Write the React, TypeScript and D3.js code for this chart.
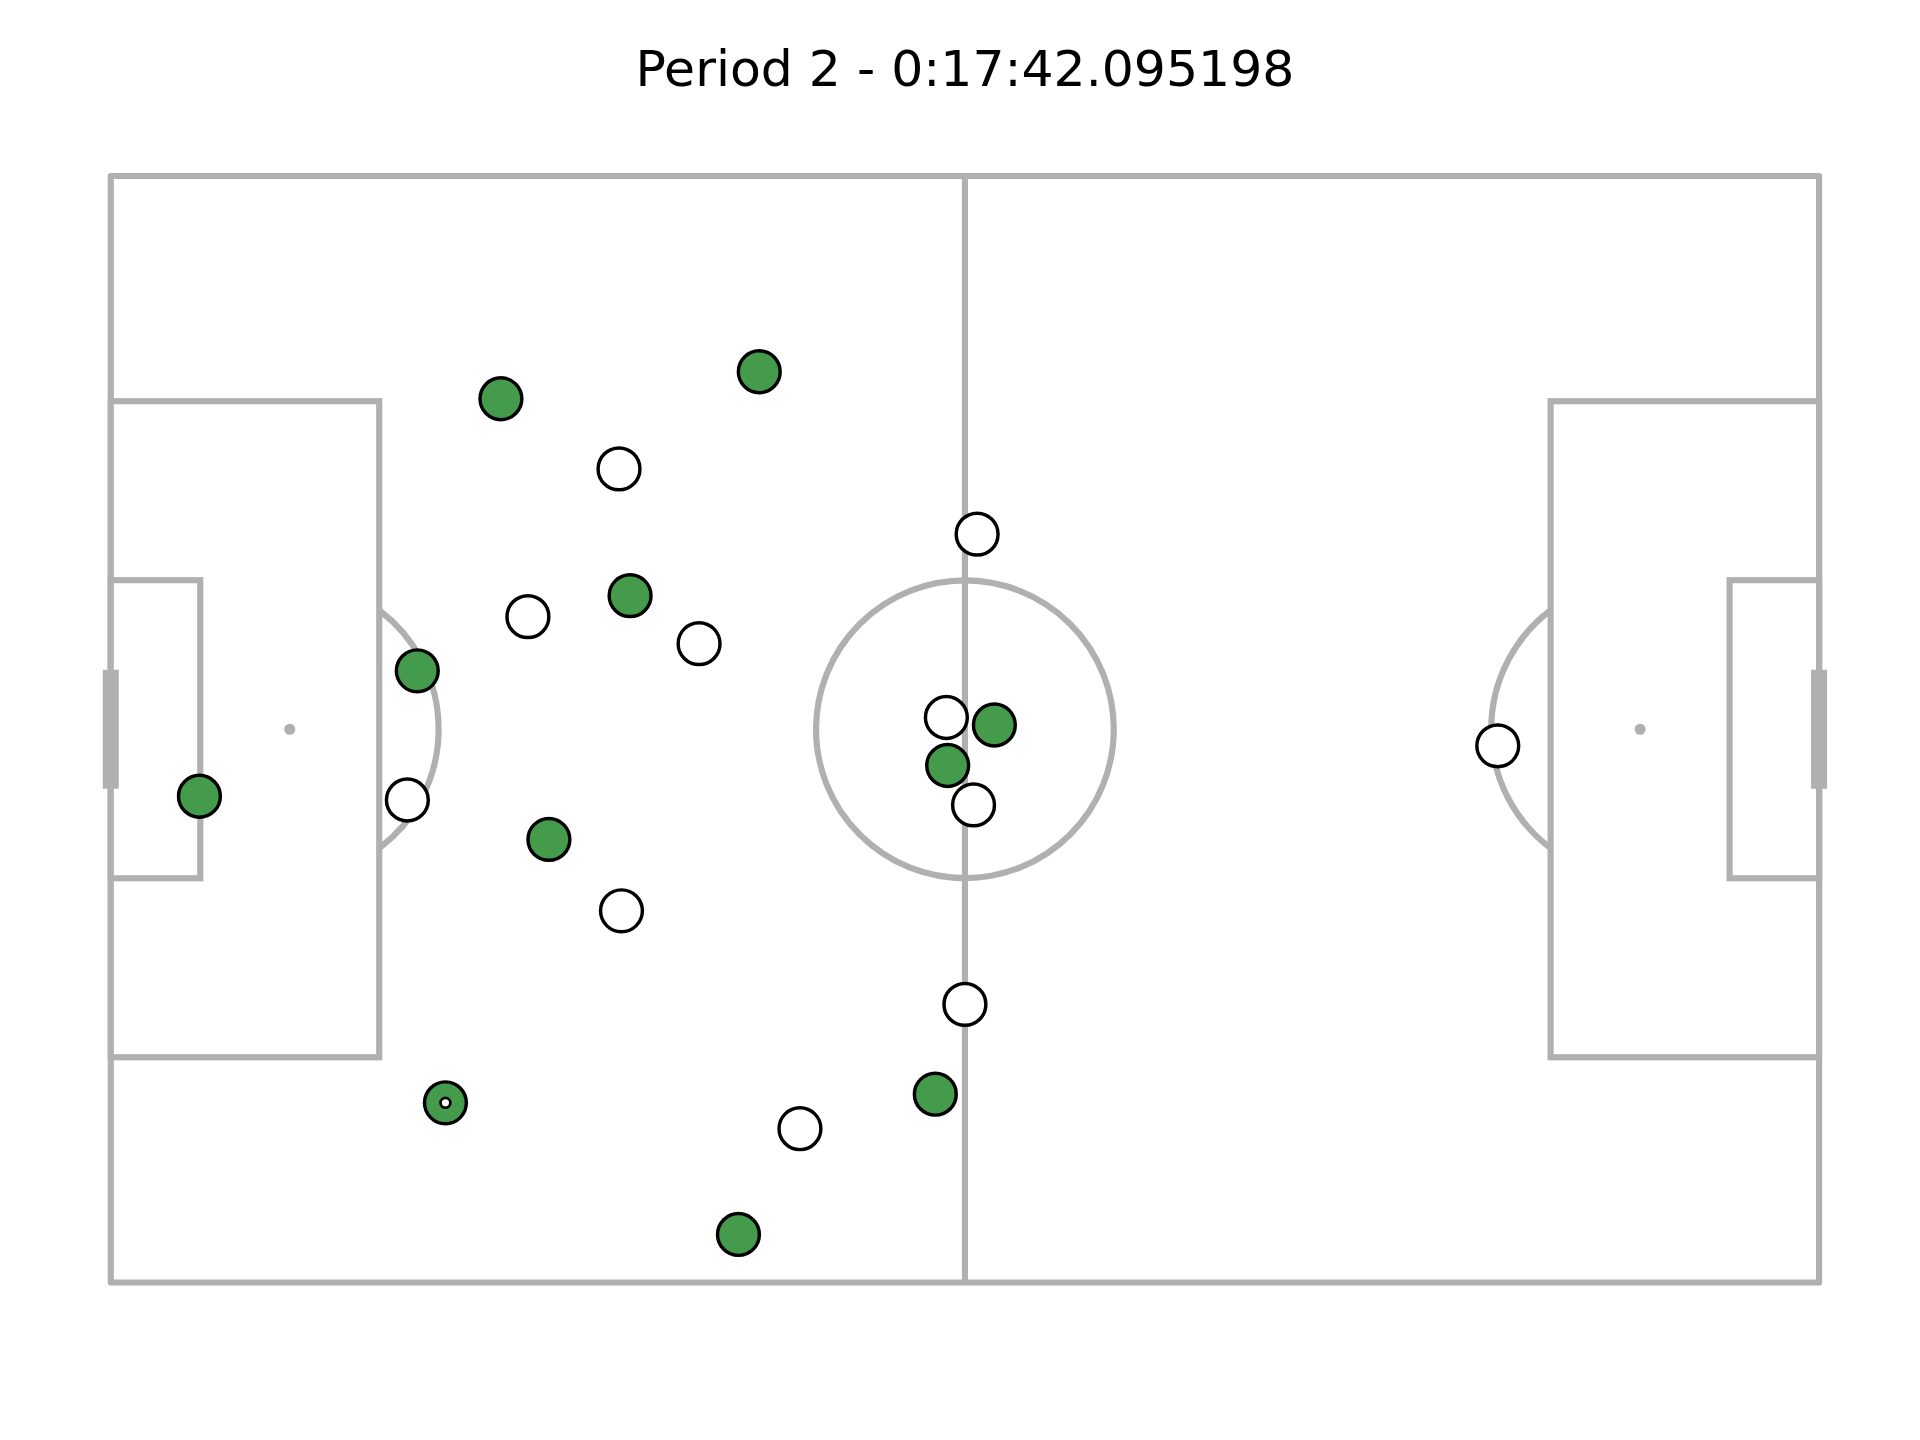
import React from 'react';
import * as d3 from 'd3';

// pitch in metres (105 x 68), positions read from the frame
const homeX = [23.98, 39.86, 31.92, 18.84, 5.45, 26.93, 51.44, 54.31, 50.68, 20.57, 38.58];
const homeY = [13.69, 12.03, 25.79, 30.41, 38.12, 40.77, 36.23, 33.74, 56.43, 56.96, 65.05];
const awayX = [31.24, 53.25, 25.64, 36.16, 51.36, 18.23, 53.03, 31.39, 52.5, 42.36, 85.25];
const awayY = [18.0, 22.01, 27.08, 28.74, 33.28, 38.35, 38.65, 45.16, 50.91, 58.55, 35.02];
const ball = [20.57, 56.96];
const title = 'Period 2 - 0:17:42.095198';

export default function App() {
  const x = d3.scaleLinear().domain([0, 105]).range([90, 1478]);
  const y = d3.scaleLinear().domain([0, 68]).range([143, 1042]);
  const k = x(1) - x(0);
  const line = '#b0b0b0';
  const lw = 5;
  const arc = d3.arc();
  const pen = (side: number) => {
    const sx = side === 0 ? 11 : 94;
    const a0 = side === 0 ? Math.PI * 0.5 - 0.92 : -Math.PI * 0.5 - 0.92;
    return (
      <path
        transform={`translate(${x(sx)},${y(34)})`}
        d={arc({ innerRadius: 9.15 * k, outerRadius: 9.15 * k, startAngle: a0, endAngle: a0 + 1.84 }) || ''}
        fill="none" stroke={line} strokeWidth={lw}
      />
    );
  };
  const box = (x0: number, x1: number, h: number) => (
    <rect x={x(x0)} y={y(34 - h)} width={x(x1) - x(x0)} height={y(34 + h) - y(34 - h)} fill="white" stroke={line} strokeWidth={lw} />
  );
  return (
    <svg width={1920} height={1440} viewBox="0 0 1560 1170"
      style={{ position: 'absolute', left: 0, top: 0, display: 'block', background: 'white' }}>
      <text x={784} y={70} textAnchor="middle" fontFamily="DejaVu Sans" fontSize={41}>{title}</text>
      {pen(0)}
      {pen(1)}
      <rect x={x(0)} y={y(0)} width={x(105) - x(0)} height={y(68) - y(0)} fill="none" stroke={line} strokeWidth={lw} strokeLinejoin="round" />
      {box(0, 16.5, 20.16)}
      {box(88.5, 105, 20.16)}
      {box(0, 5.5, 9.16)}
      {box(99.5, 105, 9.16)}
      <line x1={x(52.5)} x2={x(52.5)} y1={y(0)} y2={y(68)} stroke={line} strokeWidth={lw} />
      <circle cx={x(52.5)} cy={y(34)} r={9.15 * k} fill="none" stroke={line} strokeWidth={lw} />
      <circle cx={x(11)} cy={y(34)} r={4.5} fill={line} />
      <circle cx={x(94)} cy={y(34)} r={4.5} fill={line} />
      <line x1={x(0)} x2={x(0)} y1={y(30.34)} y2={y(37.66)} stroke={line} strokeWidth={13} />
      <line x1={x(105)} x2={x(105)} y1={y(30.34)} y2={y(37.66)} stroke={line} strokeWidth={13} />
      {homeX.map((v, i) => (
        <circle key={'h' + i} cx={x(v)} cy={y(homeY[i])} r={17} fill="#449b4c" stroke="black" strokeWidth={2.8} />
      ))}
      {awayX.map((v, i) => (
        <circle key={'a' + i} cx={x(v)} cy={y(awayY[i])} r={17} fill="white" stroke="black" strokeWidth={2.8} />
      ))}
      <circle cx={x(ball[0])} cy={y(ball[1])} r={4} fill="white" stroke="black" strokeWidth={2.2} />
    </svg>
  );
}
